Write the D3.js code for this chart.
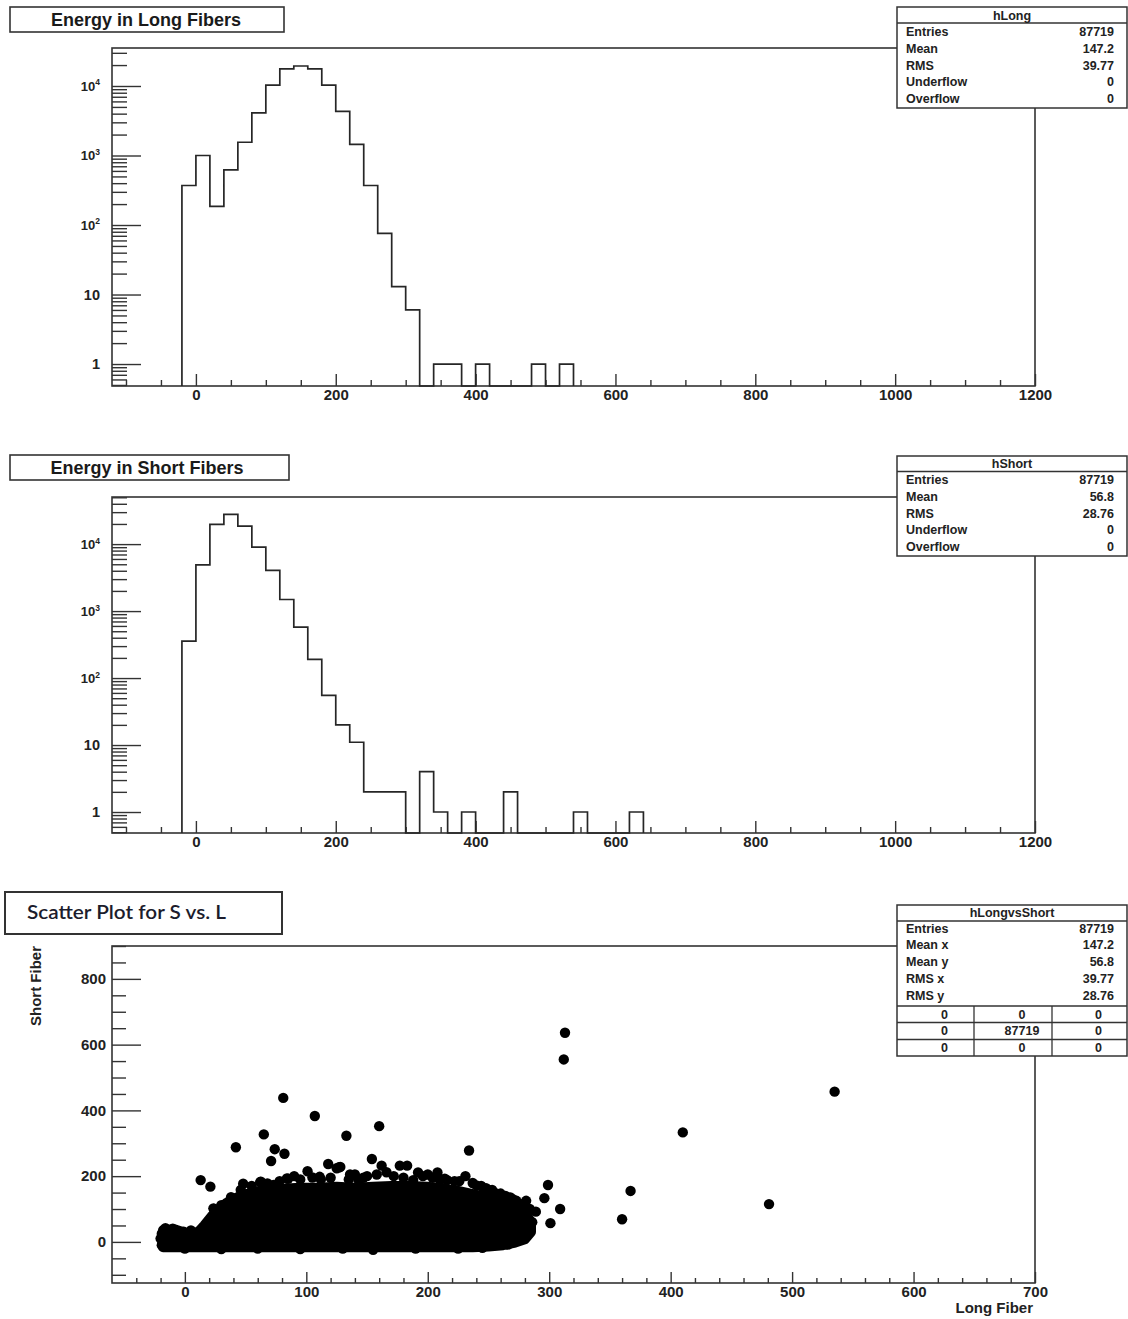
<!DOCTYPE html>
<html><head><meta charset="utf-8">
<script src="https://cdn.jsdelivr.net/npm/d3@7"></script>
<style>body{margin:0;background:#fff} svg{display:block}</style>
</head><body>
<svg id="c" width="1128" height="1319"></svg>
<script>
// ---------------- data ----------------
const binStart = -20, binWidth = 20;
const longCounts  = [370,1000,185,620,1550,4100,10300,17600,19400,17600,10300,4300,1450,370,76,13,6,0,1,1,0,1,0,0,0,1,0,1];
const shortCounts = [357,4900,19700,27700,18600,9000,4050,1490,577,190,55,20,11,2,2,2,0,4,1,0,1,0,0,2,0,0,0,0,1,0,0,0,1];

const histXTicks = [0,200,400,600,800,1000,1200];
const logYTicks  = [1,10,100,1000,10000];
const scatterXTicks = [0,100,200,300,400,500,600,700];
const scatterYTicks = [0,200,400,600,800];

const statLabels   = ["Entries","Mean","RMS","Underflow","Overflow"];
const longStats    = ["87719","147.2","39.77","0","0"];
const shortStats   = ["87719","56.8","28.76","0","0"];
const scatterLabels= ["Entries","Mean x","Mean y","RMS x","RMS y"];
const scatterStats = ["87719","147.2","56.8","39.77","28.76"];
const scatterGrid  = [["0","0","0"],["0","87719","0"],["0","0","0"]];

// dense core of the scatter (envelope of marker centres)
const denseL      = [-18,-8,0,10,16,22,28,34,40,46,55,65,80,95,110,125,140,155,170,185,200,212,225,237,250,262,272,280,285];
const denseTop    = [36,38,28,26,50,78,98,118,130,140,150,158,162,165,165,168,165,168,170,170,168,162,155,145,135,122,110,90,60];
const denseBottom = [-16,-16,-16,-16,-16,-16,-16,-16,-16,-16,-16,-16,-16,-16,-16,-16,-16,-16,-16,-16,-16,-16,-16,-16,-14,-10,-2,8,30];
// markers on the rim of the core
const edgeL = [13,21,24,30,48,62,85,101,112,118,127,136,143,154,162,166,177,183,192,200,208,216,231,240,249,260,273,281,289,296,299,301,309,-16,-10,5,90,105,150,172,222,255,268,
  125,188,210,237,248,268,281,277,274,257,-1,11,46,73,84,111,128,23.5,38,62.6,
  55,68,78,95,120,135,140,147,158,180,196,204,214,226,244,253,264,270,278,284,286,283,266,
  0,30,60,95,130,155,190,225,245,-19,-20,-19];
const edgeS = [188,168,100,112,177,182,192,215,190,237,227,205,188,252,232,212,232,232,211,205,211,188,200,172,160,147,125,125,92,133,173,57,100,42,40,35,200,196,200,200,185,150,135,
  224,188,188,179,163,97,77,27,15,-4,31,31,158,173,193,198,228,102,136,183,
  170,178,185,190,195,190,205,195,205,195,200,195,192,185,170,158,140,130,115,100,60,40,-8,
  -20,-22,-20,-22,-20,-24,-20,-20,-18,-10,10,25];
// isolated markers
const outL = [81,107,65,42,74,82,71,133,160,234,313,312,410,535,367,360,481];
const outS = [438,383,327,288,282,268,246,323,352,278,636,555,333,457,155,69,115];

// ---------------- drawing ----------------
const svg = d3.select("#c");
svg.append("rect").attr("width",1128).attr("height",1319).attr("fill","#fff");
const LINE = "#333";
const FONT = "'Liberation Sans', Arial, Helvetica, sans-serif";

function styleAxis(g){
  g.select(".domain").remove();
  g.selectAll("line").attr("stroke",LINE).attr("stroke-width",1.4);
  g.selectAll("text").attr("font-family",FONT).attr("font-weight","bold")
    .attr("font-size",15).attr("fill","#222");
}

function titleBox(b, text, opts){
  svg.append("rect").attr("x",b.x).attr("y",b.y).attr("width",b.w).attr("height",b.h)
    .attr("fill","#fff").attr("stroke",LINE).attr("stroke-width",opts.sw||1.6);
  const t = svg.append("text").attr("x",opts.tx).attr("y",opts.ty).attr("dy","0.35em")
    .attr("text-anchor",opts.anchor||"middle")
    .attr("font-family",opts.font||FONT).attr("font-weight",opts.weight||"bold")
    .attr("font-size",opts.size||18).attr("fill",opts.fill||"#1a1a1a").text(text);
  if (opts.len) t.attr("textLength",opts.len).attr("lengthAdjust","spacingAndGlyphs");
}

function statsBox(b, name, labels, values){
  const g = svg.append("g");
  g.append("rect").attr("x",b.x0).attr("y",b.y0).attr("width",b.x1-b.x0).attr("height",b.y1-b.y0)
    .attr("fill","#fff").attr("stroke",LINE).attr("stroke-width",1.5);
  g.append("line").attr("x1",b.x0).attr("x2",b.x1).attr("y1",b.sep).attr("y2",b.sep)
    .attr("stroke",LINE).attr("stroke-width",1.3);
  g.append("text").attr("x",(b.x0+b.x1)/2).attr("y",b.titleY).attr("dy","0.35em")
    .attr("text-anchor","middle").attr("font-family",FONT).attr("font-weight","bold")
    .attr("font-size",12.5).attr("fill","#222").text(name);
  labels.forEach((l,i)=>{
    g.append("text").attr("x",b.x0+9).attr("y",b.rows[i]).attr("dy","0.35em")
      .attr("font-family",FONT).attr("font-weight","bold").attr("font-size",12.5).attr("fill","#222").text(l);
    g.append("text").attr("x",b.x1-13).attr("y",b.rows[i]).attr("dy","0.35em").attr("text-anchor","end")
      .attr("font-family",FONT).attr("font-weight","bold").attr("font-size",12.5).attr("fill","#222").text(values[i]);
  });
  return g;
}

function histPanel(p, counts, title, statName, stats){
  const x = d3.scaleLinear().domain([-120,1200]).range([112,1035]);
  const y = d3.scaleLog().domain(p.ydom).range([p.bottom,p.top]);
  svg.append("rect").attr("x",112).attr("y",p.top).attr("width",1035-112).attr("height",p.bottom-p.top)
    .attr("fill","none").attr("stroke",LINE).attr("stroke-width",1.6);
  const minorX = d3.range(-100,1201,50).filter(v=>v%200!==0);
  svg.append("g").attr("transform",`translate(0,${p.bottom})`)
    .call(d3.axisTop(x).tickValues(minorX).tickSize(6).tickFormat("")).call(styleAxis);
  svg.append("g").attr("transform",`translate(0,${p.bottom})`)
    .call(d3.axisTop(x).tickValues(histXTicks).tickSize(12).tickFormat("")).call(styleAxis);
  svg.append("g").attr("transform",`translate(0,${p.bottom})`)
    .call(d3.axisBottom(x).tickValues(histXTicks).tickSize(0).tickPadding(3).tickFormat(d3.format("d"))).call(styleAxis);
  const minorY = [];
  for (let k=-1;k<=4;k++) for (let m=2;m<=9;m++){ const v=m*Math.pow(10,k); if(v>=p.ydom[0]&&v<=p.ydom[1]) minorY.push(v); }
  svg.append("g").attr("transform","translate(112,0)")
    .call(d3.axisRight(y).tickValues(minorY).tickSize(15).tickFormat("")).call(styleAxis);
  svg.append("g").attr("transform","translate(112,0)")
    .call(d3.axisRight(y).tickValues(logYTicks).tickSize(29).tickFormat("")).call(styleAxis);
  logYTicks.forEach(v=>{
    const e = Math.round(Math.log10(v));
    const t = svg.append("text").attr("x",100).attr("y",y(v)).attr("dy","0.35em").attr("text-anchor","end")
      .attr("font-family",FONT).attr("font-weight","bold").attr("fill","#222");
    if (e<=1){ t.attr("font-size",14.5).text(String(v)); }
    else {
      t.attr("font-size",13);
      t.append("tspan").text("10");
      t.append("tspan").attr("font-size",8.5).attr("dy","-0.6em").text(String(e));
    }
  });
  const yb = p.bottom;
  const pts = [[binStart, 0]];
  counts.forEach((c,i)=>{ pts.push([binStart+i*binWidth, c]); pts.push([binStart+(i+1)*binWidth, c]); });
  pts.push([binStart+counts.length*binWidth, 0]);
  const line = d3.line().x(d=>x(d[0])).y(d=>d[1]>0 ? y(d[1]) : yb);
  svg.append("path").attr("d",line(pts)).attr("fill","none").attr("stroke","#262626")
    .attr("stroke-width",1.7).attr("stroke-linejoin","miter");
  titleBox(p.tbox, title, {tx:p.tbox.tx, ty:p.tbox.ty});
  statsBox(p.sbox, statName, statLabels, stats);
}

histPanel({top:48,bottom:386,ydom:[0.483,35200],
  tbox:{x:10,y:7,w:274,h:25,tx:146,ty:19.5},
  sbox:{x0:897,x1:1127,y0:7,y1:108,sep:23,titleY:15.5,rows:[32,48.7,65.4,82.1,98.8]}},
  longCounts,"Energy in Long Fibers","hLong",longStats);

histPanel({top:497,bottom:833,ydom:[0.486,50500],
  tbox:{x:10,y:455,w:279,h:25,tx:147,ty:468},
  sbox:{x0:897,x1:1127,y0:456,y1:556,sep:471.5,titleY:463.5,rows:[480,496.7,513.4,530.1,546.8]}},
  shortCounts,"Energy in Short Fibers","hShort",shortStats);

// ---------------- scatter panel ----------------
(function(){
  const top=946, bottom=1283;
  const x = d3.scaleLinear().domain([-60,700]).range([112,1035]);
  const y = d3.scaleLinear().domain([-125,900]).range([bottom,top]);
  svg.append("rect").attr("x",112).attr("y",top).attr("width",1035-112).attr("height",bottom-top)
    .attr("fill","none").attr("stroke",LINE).attr("stroke-width",1.6);
  const minorX = d3.range(-40,701,20).filter(v=>v%100!==0);
  svg.append("g").attr("transform",`translate(0,${bottom})`)
    .call(d3.axisTop(x).tickValues(minorX).tickSize(5).tickFormat("")).call(styleAxis);
  svg.append("g").attr("transform",`translate(0,${bottom})`)
    .call(d3.axisTop(x).tickValues(scatterXTicks).tickSize(11).tickFormat("")).call(styleAxis);
  svg.append("g").attr("transform",`translate(0,${bottom})`)
    .call(d3.axisBottom(x).tickValues(scatterXTicks).tickSize(0).tickPadding(3).tickFormat(d3.format("d"))).call(styleAxis);
  const minorY = d3.range(-100,901,50).filter(v=>v%200!==0);
  svg.append("g").attr("transform","translate(112,0)")
    .call(d3.axisRight(y).tickValues(minorY).tickSize(14).tickFormat("")).call(styleAxis);
  svg.append("g").attr("transform","translate(112,0)")
    .call(d3.axisRight(y).tickValues(scatterYTicks).tickSize(29).tickFormat("")).call(styleAxis);
  svg.append("g").attr("transform","translate(112,0)")
    .call(d3.axisLeft(y).tickValues(scatterYTicks).tickSize(0).tickPadding(6).tickFormat(d3.format("d"))).call(styleAxis);

  const core = denseL.map((l,i)=>({l, t:denseTop[i], b:denseBottom[i]}));
  const area = d3.area().x(d=>x(d.l)).y0(d=>y(d.b)).y1(d=>y(d.t));
  svg.append("path").attr("d",area(core)).attr("fill","#000").attr("stroke","#000")
    .attr("stroke-width",10).attr("stroke-linejoin","round");
  const dots = edgeL.map((l,i)=>({l,s:edgeS[i]})).concat(outL.map((l,i)=>({l,s:outS[i]})));
  svg.append("g").selectAll("circle").data(dots).join("circle")
    .attr("cx",d=>x(d.l)).attr("cy",d=>y(d.s)).attr("r",5.2).attr("fill","#000");

  svg.append("text").attr("transform","translate(41,946) rotate(-90)").attr("text-anchor","end")
    .attr("font-family",FONT).attr("font-weight","bold").attr("font-size",15).attr("fill","#222").text("Short Fiber");
  svg.append("text").attr("x",1033).attr("y",1313).attr("text-anchor","end")
    .attr("font-family",FONT).attr("font-weight","bold").attr("font-size",15).attr("fill","#222").text("Long Fiber");

  titleBox({x:5,y:892,w:277,h:42}, "Scatter Plot for S vs. L",
    {tx:27,ty:912,anchor:"start",font:"Lato, 'Open Sans', sans-serif",weight:"600",size:20,fill:"#1c1c2c",sw:2,len:199});

  const b = {x0:897,x1:1127,y0:905,y1:1056,sep:921,titleY:913,rows:[928.5,944.5,962,978.5,995.5]};
  const g = statsBox(b,"hLongvsShort",scatterLabels,scatterStats);
  const gridY = [1006,1022.5,1039.5,1056];
  const colX = [897,974,1052,1127];
  gridY.slice(0,3).forEach(yy=>g.append("line").attr("x1",897).attr("x2",1127).attr("y1",yy).attr("y2",yy)
    .attr("stroke",LINE).attr("stroke-width",1.3));
  [974,1052].forEach(xx=>g.append("line").attr("x1",xx).attr("x2",xx).attr("y1",1006).attr("y2",1056)
    .attr("stroke",LINE).attr("stroke-width",1.3));
  scatterGrid.forEach((row,r)=>row.forEach((v,c)=>{
    g.append("text").attr("x",(colX[c]+colX[c+1])/2+9).attr("y",(gridY[r]+gridY[r+1])/2).attr("dy","0.35em")
      .attr("text-anchor","middle").attr("font-family",FONT).attr("font-weight","bold")
      .attr("font-size",12.5).attr("fill","#222").text(v);
  }));
})();
</script>
</body></html>
